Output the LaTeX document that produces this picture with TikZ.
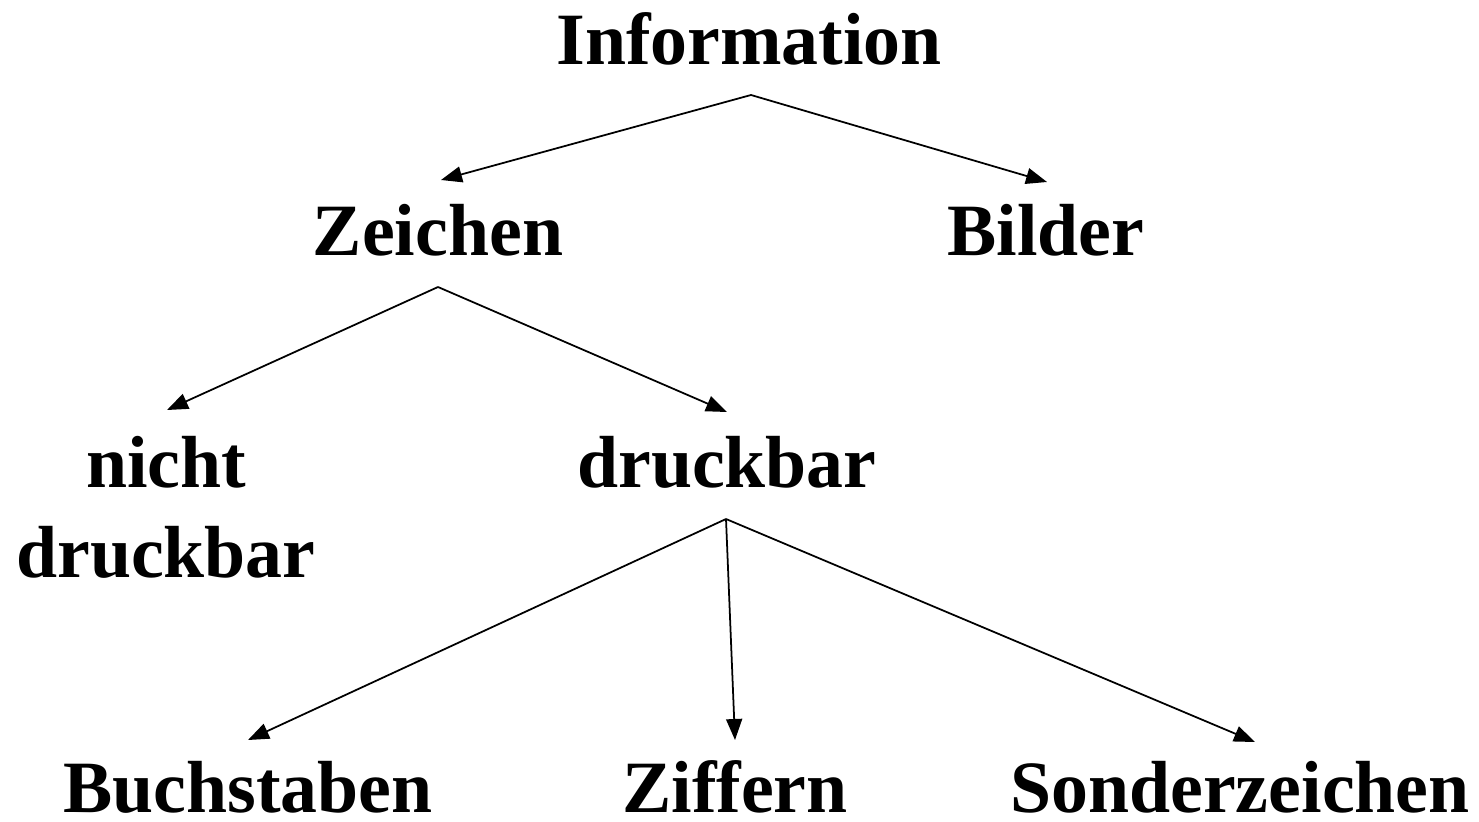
\documentclass[tikz,border=0pt]{standalone}
\usepackage{fontspec}
\setmainfont{Liberation Serif}
\usetikzlibrary{arrows.meta}
\tikzset{
  label/.style={anchor=base, inner sep=0pt, align=center,
    font=\fontsize{42pt}{51pt}\selectfont\bfseries},
  link/.style={line width=1pt, -{Triangle[length=0.42cm,width=0.32cm]}}
}
\begin{document}
\begin{tikzpicture}[x=0.02cm, y=-0.02cm]
  \useasboundingbox (0,0) rectangle (1479,821);
  % tree labels
  \node[label] (info) at (749,65) {Information};
  \node[label] (zei) at (438,255) {Zeichen};
  \node[label] (bil) at (1046,255) {Bilder};
  \node[label] (nd) at (166,577) {nicht\\druckbar};
  \node[label] (dr) at (727,487) {druckbar};
  \node[label] (buc) at (248,812) {Buchstaben};
  \node[label] (zif) at (735,812) {Ziffern};
  \node[label] (son) at (1240,812) {Sonderzeichen};
  % branches
  \draw[link] ([shift={(2,30)}]info.base) -- ([shift={(3,-75)}]zei.base);
  \draw[link] ([shift={(2,30)}]info.base) -- ([shift={(1,-73)}]bil.base);
  \draw[link] ([shift={(0,32)}]zei.base) -- ([shift={(1,-167)}]nd.base);
  \draw[link] ([shift={(0,32)}]zei.base) -- ([shift={(0,-75)}]dr.base);
  \draw[link] ([shift={(-1,32)}]dr.base) -- ([shift={(0,-72)}]buc.base);
  \draw[link] ([shift={(-1,32)}]dr.base) -- ([shift={(0,-72)}]zif.base);
  \draw[link] ([shift={(-1,32)}]dr.base) -- ([shift={(15,-70)}]son.base);
\end{tikzpicture}
\end{document}
